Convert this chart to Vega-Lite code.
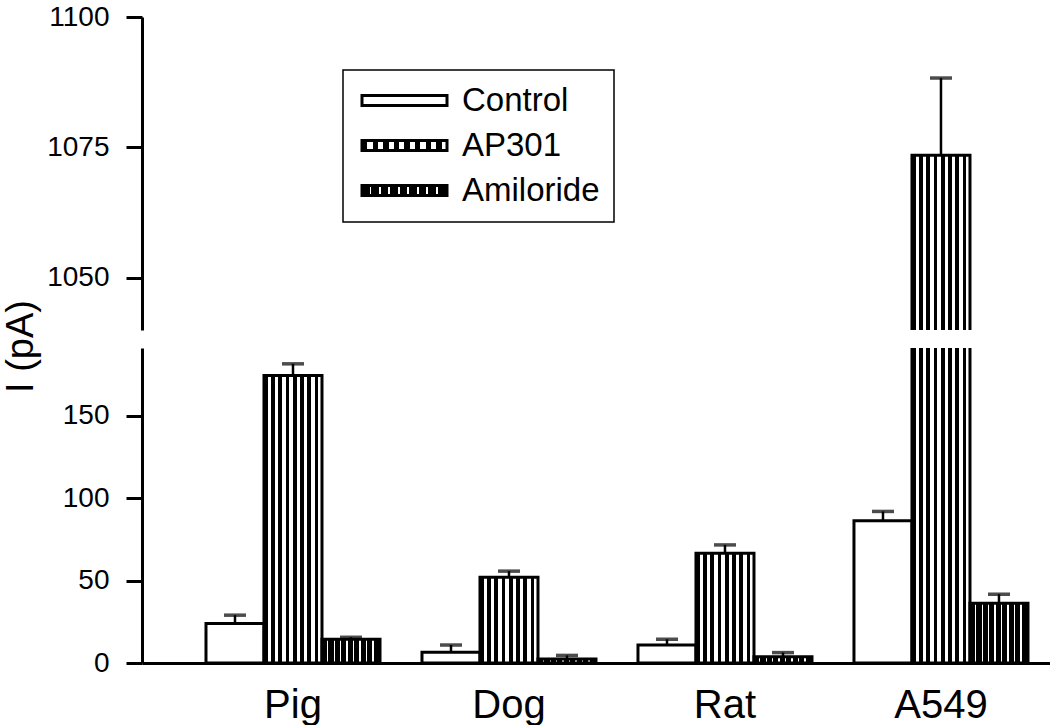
{
  "$schema": "https://vega.github.io/schema/vega-lite/v6.json",
  "background": "white",
  "padding": {"left": 2, "top": 3, "right": 0, "bottom": 0},
  "bounds": "flush",
  "params": [
    {"name": "gradAP", "value": {"gradient": "linear", "x1": 0, "y1": 0, "x2": 1, "y2": 0, "stops": [
      {"offset": 0, "color": "black"}, {"offset": 0.0625, "color": "black"}, {"offset": 0.0625, "color": "white"}, {"offset": 0.125, "color": "white"},
      {"offset": 0.125, "color": "black"}, {"offset": 0.1875, "color": "black"}, {"offset": 0.1875, "color": "white"}, {"offset": 0.25, "color": "white"},
      {"offset": 0.25, "color": "black"}, {"offset": 0.3125, "color": "black"}, {"offset": 0.3125, "color": "white"}, {"offset": 0.375, "color": "white"},
      {"offset": 0.375, "color": "black"}, {"offset": 0.4375, "color": "black"}, {"offset": 0.4375, "color": "white"}, {"offset": 0.5, "color": "white"},
      {"offset": 0.5, "color": "black"}, {"offset": 0.5625, "color": "black"}, {"offset": 0.5625, "color": "white"}, {"offset": 0.625, "color": "white"},
      {"offset": 0.625, "color": "black"}, {"offset": 0.6875, "color": "black"}, {"offset": 0.6875, "color": "white"}, {"offset": 0.75, "color": "white"},
      {"offset": 0.75, "color": "black"}, {"offset": 0.8125, "color": "black"}, {"offset": 0.8125, "color": "white"}, {"offset": 0.875, "color": "white"},
      {"offset": 0.875, "color": "black"}, {"offset": 0.9375, "color": "black"}, {"offset": 0.9375, "color": "white"}, {"offset": 1, "color": "white"}
    ]}},
    {"name": "gradAm", "value": {"gradient": "linear", "x1": 0, "y1": 0, "x2": 1, "y2": 0, "stops": [
      {"offset": 0, "color": "black"}, {"offset": 0.09, "color": "black"}, {"offset": 0.09, "color": "white"}, {"offset": 0.111, "color": "white"},
      {"offset": 0.111, "color": "black"}, {"offset": 0.2, "color": "black"}, {"offset": 0.2, "color": "white"}, {"offset": 0.222, "color": "white"},
      {"offset": 0.222, "color": "black"}, {"offset": 0.311, "color": "black"}, {"offset": 0.311, "color": "white"}, {"offset": 0.333, "color": "white"},
      {"offset": 0.333, "color": "black"}, {"offset": 0.422, "color": "black"}, {"offset": 0.422, "color": "white"}, {"offset": 0.444, "color": "white"},
      {"offset": 0.444, "color": "black"}, {"offset": 0.533, "color": "black"}, {"offset": 0.533, "color": "white"}, {"offset": 0.556, "color": "white"},
      {"offset": 0.556, "color": "black"}, {"offset": 0.644, "color": "black"}, {"offset": 0.644, "color": "white"}, {"offset": 0.667, "color": "white"},
      {"offset": 0.667, "color": "black"}, {"offset": 0.756, "color": "black"}, {"offset": 0.756, "color": "white"}, {"offset": 0.778, "color": "white"},
      {"offset": 0.778, "color": "black"}, {"offset": 0.867, "color": "black"}, {"offset": 0.867, "color": "white"}, {"offset": 0.889, "color": "white"},
      {"offset": 0.889, "color": "black"}, {"offset": 1, "color": "black"}
    ]}}
  ],
  "config": {
    "font": "Liberation Sans",
    "view": {"stroke": null},
    "axis": {
      "domainColor": "black", "domainWidth": 3, "tickColor": "black", "tickWidth": 3, "tickSize": 16,
      "labelColor": "black", "labelFont": "Liberation Sans", "labelFontSize": 28, "labelPadding": 17,
      "grid": false, "titleColor": "black", "titleFont": "Liberation Sans", "titleFontWeight": "normal"
    },
    "legend": {"strokeWidth": 1.5}
  },
  "data": {"values": [
    {"species": "Pig", "treatment": "Control", "value": 24, "upper": 29},
    {"species": "Pig", "treatment": "AP301", "value": 174.3, "upper": 181.4},
    {"species": "Pig", "treatment": "Amiloride", "value": 14.4, "upper": 15.6},
    {"species": "Dog", "treatment": "Control", "value": 6.5, "upper": 10.9},
    {"species": "Dog", "treatment": "AP301", "value": 52, "upper": 55.7},
    {"species": "Dog", "treatment": "Amiloride", "value": 2.4, "upper": 4.6},
    {"species": "Rat", "treatment": "Control", "value": 10.9, "upper": 14.4},
    {"species": "Rat", "treatment": "AP301", "value": 66.6, "upper": 71.6},
    {"species": "Rat", "treatment": "Amiloride", "value": 3.8, "upper": 6.3},
    {"species": "A549", "treatment": "Control", "value": 86.2, "upper": 91.9},
    {"species": "A549", "treatment": "AP301", "value": 1073.5, "upper": 1088.3},
    {"species": "A549", "treatment": "Amiloride", "value": 36.2, "upper": 41.7}
  ]},
  "spacing": 18,
  "vconcat": [
    {
      "width": 908,
      "height": 313,
      "encoding": {
        "x": {"field": "species", "type": "nominal", "sort": ["Pig", "Dog", "Rat", "A549"],
              "scale": {"paddingInner": 0.1944, "paddingOuter": 0.1991, "align": 0.744}, "axis": null},
        "xOffset": {"field": "treatment", "type": "nominal", "sort": ["Control", "AP301", "Amiloride"],
                    "scale": {"paddingInner": 0, "paddingOuter": 0}}
      },
      "layer": [
        {
          "mark": {"type": "bar", "clip": true, "strokeWidth": 3},
          "encoding": {
            "y": {"field": "value", "type": "quantitative",
                  "scale": {"domain": [1040, 1100], "nice": false, "zero": false},
                  "axis": {"values": [1050, 1075, 1100], "title": null, "format": "d"}},
            "y2": {"datum": 0},
            "fill": {"value": {"expr": "(datum.treatment === 'AP301' || datum.value === 'AP301') ? gradAP : ((datum.treatment === 'Amiloride' || datum.value === 'Amiloride') ? gradAm : 'white')"}},
            "stroke": {"field": "treatment", "type": "nominal",
              "scale": {"domain": ["Control", "AP301", "Amiloride"], "range": ["black", "black", "black"]},
              "legend": {
                "orient": "none", "legendX": 201, "legendY": 53, "title": null, "direction": "vertical",
                "symbolType": "M-4.25,-0.5H4.25V0.5H-4.25Z", "symbolSize": 400, "symbolStrokeWidth": 3,
                "symbolOffset": 31,
                "labelFontSize": 33, "labelColor": "black", "labelFont": "Liberation Sans", "labelOffset": 41,
                "strokeColor": "black", "padding": 14, "rowPadding": 11
              }
            }
          }
        },
        {
          "mark": {"type": "rule", "clip": true, "strokeWidth": 2.5, "color": "black"},
          "encoding": {"y": {"field": "value", "type": "quantitative"}, "y2": {"field": "upper"}}
        },
        {
          "mark": {"type": "tick", "clip": true, "color": "black", "thickness": 3.5, "size": 22},
          "encoding": {"y": {"field": "upper", "type": "quantitative"}}
        }
      ]
    },
    {
      "width": 908,
      "height": 315,
      "encoding": {
        "x": {"field": "species", "type": "nominal", "sort": ["Pig", "Dog", "Rat", "A549"],
              "scale": {"paddingInner": 0.1944, "paddingOuter": 0.1991, "align": 0.744},
              "axis": {"title": null, "labelFontSize": 40, "ticks": false, "tickSize": 0, "labelPadding": 22, "labelAngle": 0}},
        "xOffset": {"field": "treatment", "type": "nominal", "sort": ["Control", "AP301", "Amiloride"],
                    "scale": {"paddingInner": 0, "paddingOuter": 0}}
      },
      "layer": [
        {
          "mark": {"type": "bar", "clip": true, "stroke": "black", "strokeWidth": 3},
          "encoding": {
            "y": {"field": "value", "type": "quantitative",
                  "scale": {"domain": [0, 191], "nice": false},
                  "axis": {"values": [0, 50, 100, 150], "title": "I (pA)", "titleFontSize": 38,
                           "titleX": -102, "titleY": -2, "titleBaseline": "bottom", "titleAngle": -90}},
            "y2": {"datum": 0},
            "fill": {"value": {"expr": "datum.treatment === 'AP301' ? gradAP : (datum.treatment === 'Amiloride' ? gradAm : 'white')"}}
          }
        },
        {
          "mark": {"type": "rule", "clip": true, "strokeWidth": 2.5, "color": "black"},
          "encoding": {"y": {"field": "value", "type": "quantitative"}, "y2": {"field": "upper"}}
        },
        {
          "mark": {"type": "tick", "clip": true, "color": "black", "thickness": 3.5, "size": 22},
          "encoding": {"y": {"field": "upper", "type": "quantitative"}}
        }
      ]
    }
  ],
  "resolve": {
    "scale": {"x": "independent", "y": "independent", "stroke": "independent"},
    "axis": {"x": "independent", "y": "independent"},
    "legend": {"stroke": "independent"}
  }
}
